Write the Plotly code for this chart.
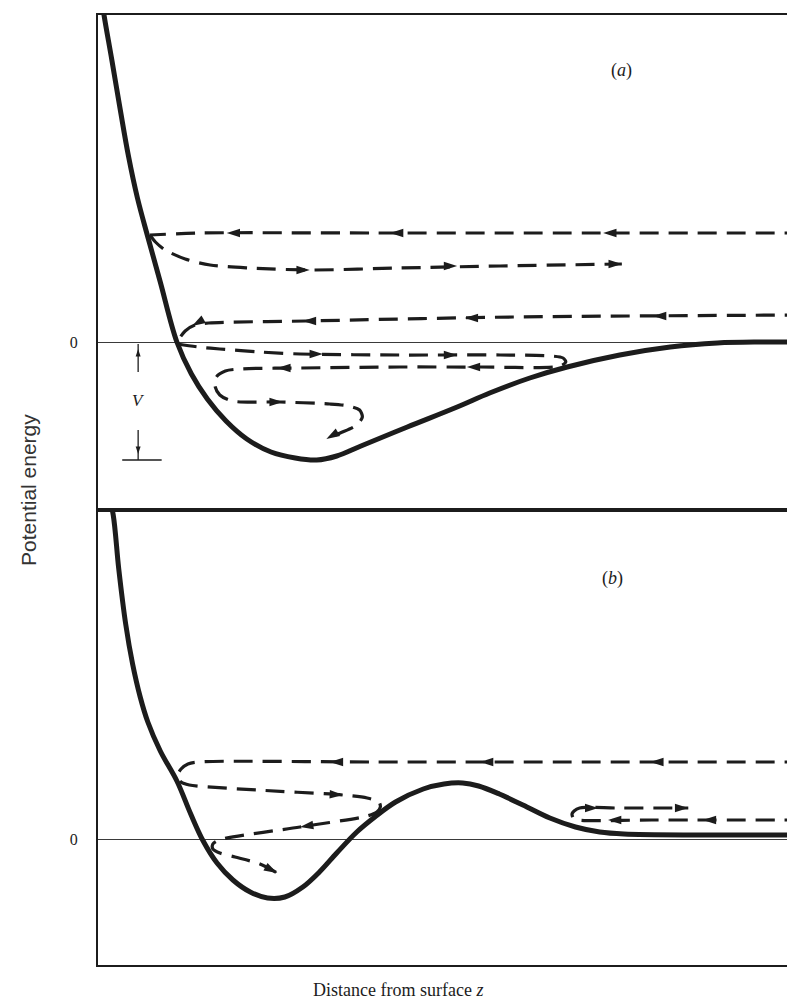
import plotly.graph_objects as go

# ---------------- data (z: distance from surface, E: potential energy, arbitrary units)
pot_a_z = [0.05, 0.087, 0.20, 0.32, 0.44, 0.57, 0.72, 0.90, 1.14, 1.35, 1.58, 1.85, 2.15, 2.50,
           2.85, 3.16, 3.45, 3.80, 4.47, 5.19, 5.66, 6.24, 6.78, 7.54, 8.27, 8.95, 9.57, 10.2]
pot_a_E = [3.45, 3.27, 2.82, 2.33, 1.86, 1.44, 1.05, 0.60, 0.00, -0.32, -0.57, -0.79, -0.97, -1.10,
           -1.16, -1.18, -1.14, -1.04, -0.85, -0.65, -0.51, -0.36, -0.25, -0.13, -0.05, -0.01, 0.0, 0.0]

pot_b_z = [0.15, 0.22, 0.30, 0.40, 0.50, 0.61, 0.72, 0.90, 1.14, 1.34, 1.52, 1.72, 1.95, 2.20,
           2.45, 2.70, 2.96, 3.20, 3.45, 3.74, 4.00, 4.30, 4.70, 5.00, 5.27, 5.50, 5.80, 6.14,
           6.53, 6.90, 7.25, 7.60, 8.70, 10.2]
pot_b_E = [3.45, 3.24, 2.70, 2.15, 1.75, 1.42, 1.17, 0.88, 0.58, 0.25, -0.02, -0.24, -0.41, -0.53,
           -0.59, -0.58, -0.48, -0.33, -0.14, 0.07, 0.22, 0.37, 0.50, 0.55, 0.56, 0.53, 0.45, 0.34,
           0.21, 0.12, 0.07, 0.05, 0.04, 0.04]

# trajectories, panel (a)
traj_a1_z = [10.2, 4.0, 1.5, 0.75]                       # incoming, high energy
traj_a1_E = [1.09, 1.09, 1.09, 1.07]
traj_a2_z = [0.75, 0.83, 0.97, 1.26, 1.62, 2.20, 3.06, 4.36, 5.81, 7.57]   # reflected
traj_a2_E = [1.07, 1.00, 0.92, 0.83, 0.77, 0.74, 0.72, 0.74, 0.76, 0.78]

traj_a3_z = [10.2, 6.0, 3.0, 1.6, 1.40, 1.26, 1.15]      # incoming, near zero
traj_a3_E = [0.27, 0.25, 0.21, 0.19, 0.17, 0.11, 0.01]
traj_a4_z = [1.15, 1.45, 1.76, 2.34, 2.92, 4.36, 5.81, 6.55, 6.72, 6.76, 6.68, 5.5, 4.36, 2.92,
             2.05, 1.84, 1.71, 1.69, 1.76, 1.94, 2.63, 3.35, 3.62, 3.78, 3.82, 3.74, 3.50, 3.30]
traj_a4_E = [-0.02, -0.05, -0.07, -0.10, -0.12, -0.13, -0.13, -0.14, -0.16, -0.20, -0.24, -0.25,
             -0.25, -0.26, -0.27, -0.29, -0.35, -0.44, -0.53, -0.59, -0.60, -0.62, -0.64, -0.68,
             -0.75, -0.83, -0.91, -0.97]

arrows_a_z = [1.86, 4.22, 7.30, 3.06, 5.19, 7.57, 1.36, 2.96, 5.30, 8.02, 3.25, 5.19, 2.59, 5.33, 2.67, 3.30]
arrows_a_E = [1.09, 1.09, 1.09, 0.72, 0.76, 0.78, 0.16, 0.21, 0.24, 0.26, -0.12, -0.13, -0.26, -0.25, -0.60, -0.97]
arrows_a_dir = [270, 270, 270, 90, 90, 90, 240, 270, 270, 270, 90, 90, 270, 270, 90, 240]

# trajectories, panel (b)
traj_b1_z = [10.2, 4.0, 1.45, 1.30, 1.20, 1.15, 1.20, 1.32, 2.30, 3.54, 3.89, 4.06, 4.08, 4.03,
             3.89, 2.92, 1.75, 1.66, 1.66, 1.76, 1.98, 2.34, 2.59]
traj_b1_E = [0.77, 0.77, 0.77, 0.75, 0.70, 0.63, 0.57, 0.54, 0.49, 0.44, 0.41, 0.37, 0.32, 0.27,
             0.23, 0.12, -0.01, -0.05, -0.10, -0.14, -0.18, -0.25, -0.34]

traj_b2_z = [10.2, 8.0, 6.95, 6.87, 6.85, 6.88, 6.96, 7.5, 8.53]
traj_b2_E = [0.19, 0.19, 0.19, 0.21, 0.25, 0.28, 0.31, 0.31, 0.31]

arrows_b_z = [3.35, 5.52, 7.98, 3.54, 2.92, 2.59, 7.37, 8.74, 7.23, 8.53]
arrows_b_E = [0.77, 0.77, 0.77, 0.44, 0.12, -0.34, 0.19, 0.19, 0.31, 0.31]
arrows_b_dir = [270, 270, 270, 93, 261, 118, 270, 270, 90, 90]

# well-depth marker V
v_z = 0.58
v_gap_top = -0.30
v_gap_bot = -0.88
v_label_E = -0.58
v_base_z = [0.35, 0.92]

INK = "#1c1c1c"
SERIF = "Liberation Serif, Times New Roman, serif"
SANS = "Liberation Sans, Arial, sans-serif"
DASH = "19px,10px"

fig = go.Figure()

def pot(z, E, xa, ya):
    fig.add_trace(go.Scatter(x=z, y=E, mode="lines", xaxis=xa, yaxis=ya,
                             line=dict(color=INK, width=5, shape="spline", smoothing=1.0),
                             hoverinfo="skip", showlegend=False))

def traj(z, E, xa, ya):
    fig.add_trace(go.Scatter(x=z, y=E, mode="lines", xaxis=xa, yaxis=ya,
                             line=dict(color=INK, width=3.2, dash=DASH, shape="spline", smoothing=0.8),
                             hoverinfo="skip", showlegend=False))

def arrows(z, E, ang, xa, ya):
    fig.add_trace(go.Scatter(x=z, y=E, mode="markers", xaxis=xa, yaxis=ya,
                             marker=dict(symbol="arrow", size=14, angle=ang, color=INK,
                                         line=dict(width=0)),
                             hoverinfo="skip", showlegend=False))

pot(pot_a_z, pot_a_E, "x", "y")
traj(traj_a1_z, traj_a1_E, "x", "y")
traj(traj_a2_z, traj_a2_E, "x", "y")
traj(traj_a3_z, traj_a3_E, "x", "y")
traj(traj_a4_z, traj_a4_E, "x", "y")
arrows(arrows_a_z, arrows_a_E, arrows_a_dir, "x", "y")

pot(pot_b_z, pot_b_E, "x2", "y2")
traj(traj_b1_z, traj_b1_E, "x2", "y2")
traj(traj_b2_z, traj_b2_E, "x2", "y2")
arrows(arrows_b_z, arrows_b_E, arrows_b_dir, "x2", "y2")

# V depth indicator
depth = min(pot_a_E)
for yy in ([v_gap_top, -0.02], [v_gap_bot, depth]):
    fig.add_trace(go.Scatter(x=[v_z, v_z], y=yy, mode="lines", xaxis="x", yaxis="y",
                             line=dict(color=INK, width=1.3), hoverinfo="skip", showlegend=False))
fig.add_trace(go.Scatter(x=v_base_z, y=[depth, depth], mode="lines", xaxis="x", yaxis="y",
                         line=dict(color=INK, width=1.3), hoverinfo="skip", showlegend=False))
fig.add_trace(go.Scatter(x=[v_z, v_z], y=[-0.07, depth + 0.06], mode="markers", xaxis="x", yaxis="y",
                         marker=dict(symbol="arrow", size=8, angle=[0, 180], color=INK),
                         hoverinfo="skip", showlegend=False))

# page body has an 8px margin: figure placed so that the drawn box lands on the reference pixels
OFF = 8
W, H = 787, 1000
def px_x(p):
    return (p - OFF) / W
def px_y(p):
    return 1 - (p - OFF) / H

xdom = [px_x(98), px_x(790)]
ya_dom = [px_y(510), px_y(15)]
yb_dom = [px_y(965), px_y(510)]

axis_common = dict(showgrid=False, showline=True, mirror=True, linecolor=INK, linewidth=2,
                   ticks="", zeroline=False)
yaxis_common = dict(showgrid=False, showline=True, mirror=True, linecolor=INK, linewidth=2,
                    ticks="", zeroline=True, zerolinecolor="#3a3a3a", zerolinewidth=1.2,
                    tickvals=[0], ticktext=["0"], ticklabelstandoff=15,
                    tickfont=dict(family=SERIF, size=16, color=INK))

fig.update_layout(
    width=W, height=H, margin=dict(l=0, r=0, t=0, b=0),
    paper_bgcolor="white", plot_bgcolor="white", showlegend=False,
    xaxis=dict(domain=xdom, range=[0, 10], anchor="y", showticklabels=False, **axis_common),
    yaxis=dict(domain=ya_dom, range=[-1.68, 3.27], anchor="x", **yaxis_common),
    xaxis2=dict(domain=xdom, range=[0, 10], anchor="y2", showticklabels=False, **axis_common),
    yaxis2=dict(domain=yb_dom, range=[-1.26, 3.29], anchor="x2", **yaxis_common),
    annotations=[
        dict(text="(<i>a</i>)", x=7.57, y=2.72, xref="x", yref="y", showarrow=False,
             font=dict(family=SERIF, size=18, color=INK)),
        dict(text="(<i>b</i>)", x=7.43, y=2.61, xref="x2", yref="y2", showarrow=False,
             font=dict(family=SERIF, size=18, color=INK)),
        dict(text="<i>V</i>", x=v_z, y=v_label_E, xref="x", yref="y", showarrow=False,
             font=dict(family=SERIF, size=17, color=INK)),
        dict(text="Potential energy", x=px_x(28), y=px_y(490), xref="paper", yref="paper",
             xanchor="center", yanchor="middle",
             textangle=-90, showarrow=False, font=dict(family=SANS, size=21, color="#333")),
        dict(text="Distance from surface <i>z</i>", x=px_x(398), y=px_y(990),
             xref="paper", yref="paper", xanchor="center", yanchor="middle", showarrow=False,
             font=dict(family=SERIF, size=18, color=INK)),
    ],
)

fig.write_html("out.html")
